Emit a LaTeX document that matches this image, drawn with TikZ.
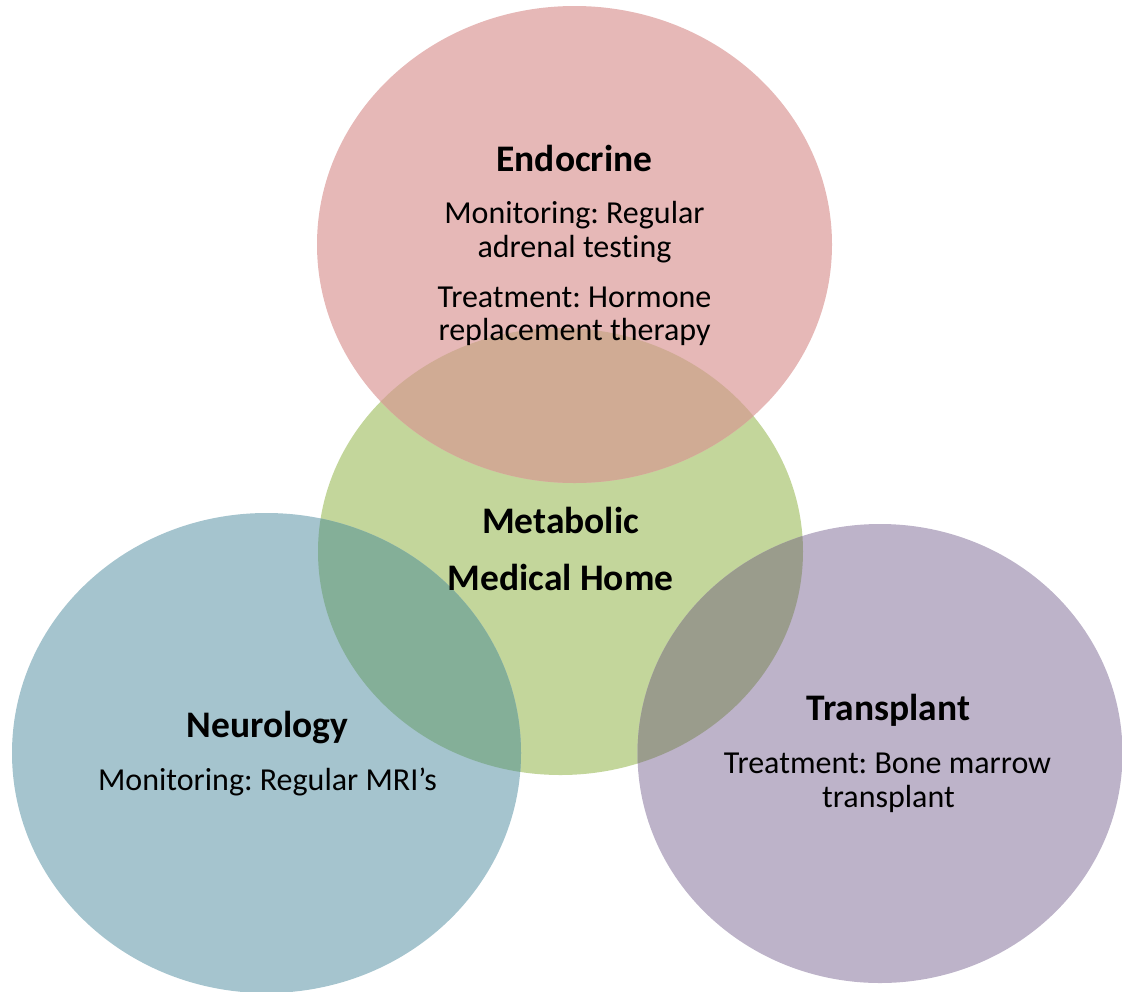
\documentclass[tikz,border=0pt]{standalone}
\usepackage{fontspec}
\setmainfont{Carlito}[Ligatures=NoCommon]
\frenchspacing
\definecolor{endoFill}{HTML}{E6B8B7}
\definecolor{metaFill}{HTML}{C3D69B}
\definecolor{neuroFill}{HTML}{A5C4CE}
\definecolor{transFill}{HTML}{BDB3C9}
\definecolor{endoMeta}{HTML}{D0AB94}
\definecolor{neuroMeta}{HTML}{84AF98}
\definecolor{transMeta}{HTML}{9A9C8C}
\begin{document}
\begin{tikzpicture}[x=1pt,y=-1pt,
  title/.style={font=\fontsize{37.5}{42}\selectfont\bfseries, anchor=base, inner sep=0pt},
  body/.style={font=\fontsize{32}{36}\selectfont, anchor=base, inner sep=0pt}]
\useasboundingbox (0,0) rectangle (1122,991);

% the four circles
\fill[metaFill]  (560.5,551.5) ellipse [x radius=242.5, y radius=223.5];
\fill[neuroFill] (266.5,753)   ellipse [x radius=254.5, y radius=240];
\fill[transFill] (880,753.5)   ellipse [x radius=242.5, y radius=229.5];
\fill[endoFill]  (574.5,244.5) ellipse [x radius=257.5, y radius=238.5];

% overlaps with the central circle
\begin{scope}
  \clip (560.5,551.5) ellipse [x radius=242.5, y radius=223.5];
  \fill[endoMeta]  (574.5,244.5) ellipse [x radius=257.5, y radius=238.5];
  \fill[neuroMeta] (266.5,753)   ellipse [x radius=254.5, y radius=240];
  \fill[transMeta] (880,753.5)   ellipse [x radius=242.5, y radius=229.5];
\end{scope}

% Endocrine
\node[title] (endoT)  at (574.5,171) {Endocrine};
\node[body]  (endoM1) at (574.5,223) {Monitoring: Regular};
\node[body]  (endoM2) at (574.5,257) {adrenal testing};
\node[body]  (endoR1) at (574.5,307) {Treatment: Hormone};
\node[body]  (endoR2) at (574.5,340) {replacement therapy};

% Metabolic Medical Home
\node[title] (metaT1) at (560.5,533) {Metabolic};
\node[title] (metaT2) at (560.5,590.5) {Medical Home};

% Neurology
\node[title] (neuroT) at (267.5,737) {Neurology};
\node[body]  (neuroM) at (267.5,790.5) {Monitoring: Regular MRI’s};

% Transplant
\node[title] (transT)  at (888.5,720) {Transplant};
\node[body]  (transR1) at (887.5,773) {Treatment: Bone marrow};
\node[body]  (transR2) at (888.5,807) {transplant};
\end{tikzpicture}
\end{document}
